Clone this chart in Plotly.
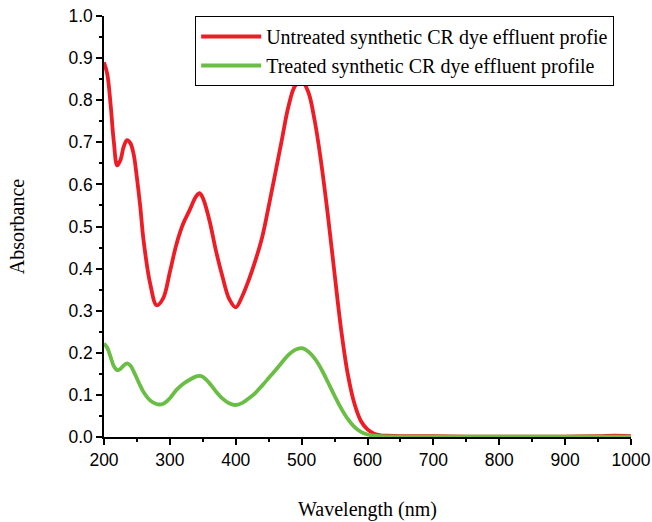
import plotly.graph_objects as go

# Untreated (red) spectrum
red_x = [200, 205, 210, 215, 220, 225, 230, 235, 240, 245, 250, 255, 260, 270, 280, 290, 300, 310, 320, 330, 340, 345,
         350, 360, 370, 380, 390, 400, 410, 420, 430, 440, 450, 460, 470, 480, 490, 500, 510, 520, 530, 540, 550,
         560, 570, 580, 590, 600, 610, 620, 630, 650, 700, 750, 800, 850, 900, 950, 975, 1000]
red_y = [0.890, 0.862, 0.790, 0.700, 0.645, 0.658, 0.690, 0.705, 0.698, 0.672, 0.615, 0.548, 0.468, 0.365, 0.313,
         0.330, 0.392, 0.458, 0.506, 0.539, 0.572, 0.579, 0.568, 0.515, 0.442, 0.380, 0.328, 0.308, 0.335, 0.374,
         0.420, 0.474, 0.548, 0.626, 0.706, 0.785, 0.834, 0.846, 0.820, 0.750, 0.648, 0.525, 0.388, 0.255, 0.150,
         0.080, 0.038, 0.018, 0.008, 0.004, 0.003, 0.002, 0.002, 0.001, 0.001, 0.001, 0.001, 0.002, 0.003, 0.002]

# Treated (green) spectrum
green_x = [200, 205, 210, 215, 220, 225, 230, 235, 240, 245, 250, 255, 260, 270, 280, 290, 300, 310, 320, 330, 340, 345,
           350, 360, 370, 380, 390, 400, 410, 420, 430, 440, 450, 460, 470, 480, 490, 500, 510, 520, 530, 540, 550,
           560, 570, 580, 590, 600, 610, 620, 650, 700, 800, 900, 1000]
green_y = [0.222, 0.212, 0.190, 0.168, 0.159, 0.162, 0.170, 0.175, 0.170, 0.156, 0.139, 0.122, 0.107, 0.087, 0.078,
           0.079, 0.092, 0.112, 0.126, 0.136, 0.144, 0.145, 0.143, 0.128, 0.108, 0.091, 0.080, 0.076, 0.081, 0.092,
           0.105, 0.122, 0.140, 0.158, 0.177, 0.195, 0.207, 0.211, 0.203, 0.186, 0.161, 0.130, 0.098, 0.068, 0.043,
           0.024, 0.012, 0.006, 0.003, 0.002, 0.001, 0.001, 0.001, 0.001, 0.001]

names = ["Untreated synthetic CR dye effluent profie", "Treated synthetic CR dye effluent profile"]
x_ticks = [200, 300, 400, 500, 600, 700, 800, 900, 1000]
y_ticks = [0.0, 0.1, 0.2, 0.3, 0.4, 0.5, 0.6, 0.7, 0.8, 0.9, 1.0]

fig = go.Figure()
fig.add_trace(go.Scatter(x=red_x, y=red_y, mode="lines", name=names[0],
                         line=dict(color="#EE1C25", width=3.8, shape="spline", smoothing=1.0)))
fig.add_trace(go.Scatter(x=green_x, y=green_y, mode="lines", name=names[1],
                         line=dict(color="#6ABD45", width=3.8, shape="spline", smoothing=1.0)))

tickfont = dict(family="Liberation Sans, Arial", size=17.5, color="black")
titlefont = dict(family="Liberation Serif, Times New Roman", size=20, color="black")

fig.update_layout(
    width=652, height=522,
    margin=dict(l=104, r=21, t=16, b=85),
    paper_bgcolor="white", plot_bgcolor="white",
    showlegend=True,
    legend=dict(x=0.173, y=1.0, xanchor="left", yanchor="top",
                bordercolor="black", borderwidth=1, bgcolor="white",
                font=dict(family="Liberation Serif, Times New Roman", size=20, color="black"),
                itemwidth=60, tracegroupgap=0),
    xaxis=dict(range=[200, 1000], tickvals=x_ticks, ticktext=[str(v) for v in x_ticks], automargin=False,
               showgrid=False, zeroline=False, showline=True, linecolor="black", linewidth=1.5,
               ticks="outside", ticklen=6, tickwidth=1.5, tickcolor="black", tickfont=tickfont,
               minor=dict(ticks="outside", ticklen=3, tickwidth=1.5, tickcolor="black", dtick=50, showgrid=False),
               title=dict(text="Wavelength (nm)", font=titlefont, standoff=33)),
    yaxis=dict(range=[0, 1.0], tickvals=y_ticks, ticktext=[f"{v:.1f}" for v in y_ticks], automargin=False,
               showgrid=False, zeroline=False, showline=True, linecolor="black", linewidth=1.5,
               ticks="outside", ticklen=6, tickwidth=1.5, tickcolor="black", tickfont=tickfont,
               minor=dict(ticks="outside", ticklen=3, tickwidth=1.5, tickcolor="black", dtick=0.05, showgrid=False),
               title=dict(text="Absorbance", font=titlefont, standoff=38)),
)

fig.write_html("out.html")
